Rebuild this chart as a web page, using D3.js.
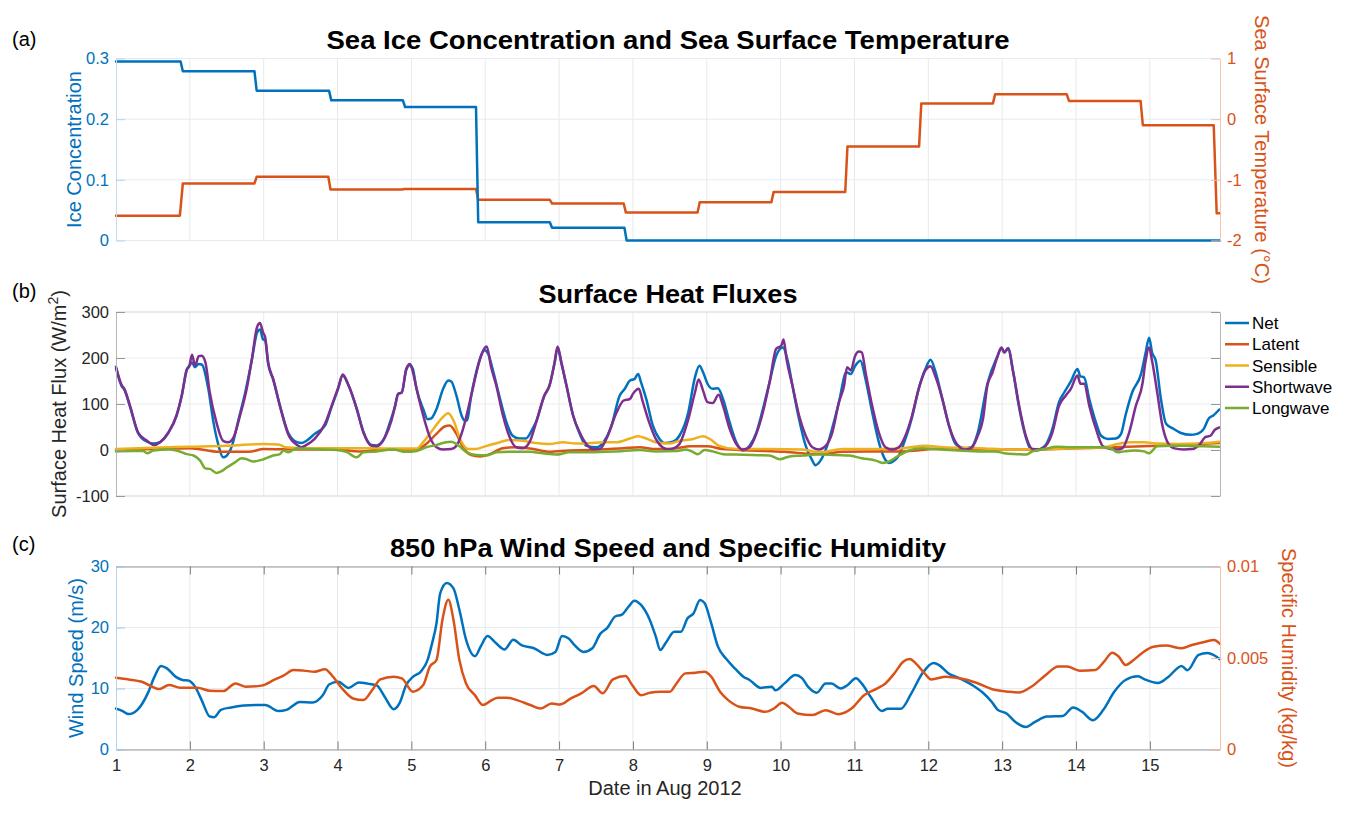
<!DOCTYPE html>
<html><head><meta charset="utf-8">
<script src="https://cdn.jsdelivr.net/npm/d3@7"></script>
<style>
body{margin:0;background:#fff}
svg{display:block}
text{font-family:"Liberation Sans",Arial,Helvetica,sans-serif}
</style>
</head><body>
<svg id="chart" width="1347" height="813"></svg>
<script>
// ---------------- DATA ----------------
const dayTicks = [1,2,3,4,5,6,7,8,9,10,11,12,13,14,15];

// Panel (a): step series (day, value)
const iceConc = [[1,0.295],[1.875,0.295],[1.905,0.279],[2.875,0.279],[2.905,0.247],[3.885,0.247],[3.915,0.231],[4.885,0.231],[4.915,0.220],[5.875,0.220],[5.905,0.030],[6.875,0.030],[6.905,0.021],[7.885,0.021],[7.915,0.0],[15.95,0.0]];
const sst = [[1,-1.59],[1.865,-1.59],[1.905,-1.06],[2.875,-1.06],[2.905,-0.95],[3.875,-0.95],[3.905,-1.16],[4.875,-1.16],[4.905,-1.15],[5.875,-1.15],[5.905,-1.33],[6.875,-1.33],[6.905,-1.39],[7.875,-1.39],[7.905,-1.54],[8.875,-1.54],[8.905,-1.37],[9.875,-1.37],[9.905,-1.20],[10.875,-1.20],[10.905,-0.45],[11.875,-0.45],[11.905,0.26],[12.875,0.26],[12.905,0.41],[13.875,0.41],[13.905,0.30],[14.875,0.30],[14.905,-0.10],[15.865,-0.10],[15.905,-1.55],[15.95,-1.55]];
const iceTicks = [0,0.1,0.2,0.3];
const sstTicks = [-2,-1,0,1];

// Panel (b): heat fluxes (day, W/m2)
const netFlux = [[1.0,178],[1.08,138],[1.11,132],[1.19,94],[1.30,36],[1.42,18],[1.51,14],[1.60,18],[1.71,38],[1.82,75],[1.89,118],[1.96,174],[2.0,185],[2.03,190],[2.07,180],[2.12,187],[2.16,186],[2.25,133],[2.32,60],[2.39,9],[2.45,-16],[2.50,-12],[2.57,9],[2.66,67],[2.75,125],[2.84,196],[2.91,255],[2.95,262],[2.99,241],[3.02,238],[3.06,188],[3.13,152],[3.22,96],[3.33,38],[3.45,17],[3.51,15],[3.58,20],[3.69,35],[3.83,53],[3.92,94],[4.01,134],[4.07,162],[4.15,140],[4.26,90],[4.35,40],[4.46,11],[4.53,10],[4.64,28],[4.71,60],[4.78,96],[4.82,122],[4.87,125],[4.93,174],[4.98,185],[5.02,176],[5.07,133],[5.16,89],[5.22,67],[5.27,69],[5.34,89],[5.43,133],[5.50,151],[5.54,149],[5.61,118],[5.68,75],[5.72,64],[5.75,64],[5.81,118],[5.90,183],[5.99,217],[6.04,209],[6.10,176],[6.19,118],[6.28,64],[6.37,31],[6.46,25],[6.55,25],[6.64,46],[6.69,62],[6.80,118],[6.87,140],[6.94,190],[6.98,222],[7.03,190],[7.10,140],[7.19,75],[7.28,35],[7.37,9],[7.51,6],[7.60,17],[7.71,53],[7.82,118],[7.89,133],[7.96,151],[8.02,154],[8.07,165],[8.11,147],[8.18,111],[8.27,53],[8.36,24],[8.43,15],[8.54,18],[8.63,31],[8.75,82],[8.84,158],[8.90,183],[8.95,169],[9.01,144],[9.08,133],[9.15,134],[9.22,111],[9.31,60],[9.40,17],[9.49,-1],[9.58,9],[9.67,37],[9.76,89],[9.85,147],[9.94,205],[10.03,223],[10.10,191],[10.16,140],[10.25,67],[10.34,9],[10.43,-23],[10.47,-33],[10.54,-23],[10.63,9],[10.72,60],[10.79,104],[10.89,169],[10.95,165],[11.01,183],[11.08,194],[11.15,154],[11.24,82],[11.33,17],[11.40,-16],[11.47,-28],[11.54,-23],[11.60,-12],[11.69,24],[11.78,71],[11.87,133],[11.96,176],[12.03,196],[12.10,169],[12.19,111],[12.28,53],[12.37,13],[12.49,4],[12.58,6],[12.67,38],[12.80,144],[12.94,205],[12.99,222],[13.03,212],[13.08,222],[13.15,169],[13.23,92],[13.32,28],[13.39,1],[13.46,-1],[13.52,2],[13.59,11],[13.68,46],[13.77,104],[13.84,125],[13.93,149],[14.02,176],[14.06,160],[14.11,158],[14.18,111],[14.27,60],[14.34,31],[14.43,24],[14.54,25],[14.61,35],[14.67,75],[14.76,125],[14.88,165],[14.94,209],[14.99,244],[15.03,212],[15.08,194],[15.15,111],[15.22,57],[15.31,47],[15.42,37],[15.55,33],[15.64,35],[15.73,46],[15.80,69],[15.86,75],[15.94,88]];
const latentFlux = [[1.0,0],[1.5,2],[2.0,4],[2.4,-4],[2.8,-4],[3.0,2],[3.5,1],[4.0,1],[4.3,-3],[4.6,1],[5.07,1],[5.2,13],[5.34,35],[5.45,51],[5.52,53],[5.61,35],[5.70,6],[5.81,-11],[5.93,-14],[6.06,-9],[6.24,4],[6.42,6],[6.65,2],[6.87,-4],[7.14,-1],[7.41,0],[7.87,4],[8.09,6],[8.31,2],[8.6,4],[8.77,8],[9.0,8],[9.22,2],[9.6,-1],[10.05,-4],[10.52,-9],[10.84,-4],[11.2,-3],[11.65,-3],[12.1,2],[12.5,2],[13.0,1],[13.5,1],[14.0,4],[14.5,6],[14.9,8],[15.4,11],[15.94,15]];
const sensibleFlux = [[1.0,2],[1.5,5],[2.0,7],[2.5,9],[2.8,12],[3.0,13],[3.2,12],[3.3,6],[3.6,4],[4.0,4],[4.5,4],[4.9,3],[5.07,3],[5.16,17],[5.3,46],[5.41,69],[5.5,80],[5.57,64],[5.66,24],[5.77,2],[5.86,2],[6.02,9],[6.2,17],[6.33,22],[6.51,20],[6.69,15],[6.87,13],[7.05,17],[7.23,14],[7.41,15],[7.6,17],[7.78,17],[7.96,25],[8.07,30],[8.18,25],[8.31,17],[8.49,14],[8.63,20],[8.82,24],[8.95,30],[9.04,24],[9.17,9],[9.4,2],[9.85,2],[10.3,1],[10.52,-5],[10.84,2],[11.2,2],[11.65,4],[11.96,9],[12.2,6],[12.7,4],[13.1,1],[13.6,2],[14.0,4],[14.38,6],[14.56,13],[14.74,17],[14.92,17],[15.1,14],[15.37,13],[15.64,14],[15.94,18]];
const shortwaveFlux = [[1.0,181],[1.08,140],[1.11,134],[1.19,96],[1.30,38],[1.42,20],[1.51,11],[1.60,17],[1.71,38],[1.82,75],[1.89,118],[1.96,176],[1.99,181],[2.03,207],[2.07,183],[2.12,204],[2.16,205],[2.21,191],[2.27,125],[2.36,60],[2.45,20],[2.52,17],[2.59,27],[2.68,75],[2.77,133],[2.84,198],[2.91,267],[2.95,276],[2.99,256],[3.02,245],[3.06,191],[3.13,154],[3.22,96],[3.33,35],[3.45,11],[3.51,6],[3.58,11],[3.69,24],[3.83,57],[3.92,96],[4.01,136],[4.07,164],[4.15,140],[4.26,89],[4.35,38],[4.46,9],[4.53,8],[4.64,27],[4.73,64],[4.78,96],[4.82,122],[4.87,125],[4.93,176],[4.98,187],[5.01,176],[5.07,133],[5.16,75],[5.25,28],[5.34,6],[5.43,1],[5.54,2],[5.61,9],[5.70,46],[5.79,104],[5.86,154],[5.93,198],[6.0,223],[6.02,225],[6.08,180],[6.15,140],[6.24,75],[6.33,28],[6.42,6],[6.51,4],[6.60,17],[6.69,60],[6.80,118],[6.87,140],[6.94,191],[6.98,225],[7.03,191],[7.10,140],[7.19,75],[7.28,38],[7.37,13],[7.46,2],[7.55,2],[7.64,24],[7.78,82],[7.87,107],[7.96,111],[8.0,122],[8.08,133],[8.13,107],[8.22,60],[8.31,24],[8.40,6],[8.49,1],[8.58,6],[8.63,13],[8.75,67],[8.84,125],[8.89,153],[8.95,129],[9.01,104],[9.08,102],[9.16,120],[9.22,96],[9.31,46],[9.40,13],[9.49,1],[9.58,6],[9.67,35],[9.76,82],[9.85,147],[9.94,220],[10.01,227],[10.04,240],[10.08,198],[10.16,140],[10.25,75],[10.34,31],[10.43,6],[10.52,1],[10.61,9],[10.70,38],[10.79,104],[10.86,140],[10.90,180],[10.95,173],[11.01,205],[11.06,214],[11.10,212],[11.15,169],[11.24,96],[11.33,38],[11.42,6],[11.51,1],[11.60,6],[11.69,31],[11.78,75],[11.87,133],[11.96,173],[12.03,182],[12.10,158],[12.19,111],[12.28,53],[12.37,17],[12.49,1],[12.58,4],[12.67,31],[12.74,67],[12.80,140],[12.87,169],[12.94,205],[12.99,223],[13.03,212],[13.08,220],[13.15,169],[13.23,96],[13.32,31],[13.41,2],[13.50,1],[13.59,9],[13.68,38],[13.77,96],[13.86,118],[13.93,133],[14.02,162],[14.06,144],[14.11,144],[14.18,96],[14.27,46],[14.36,9],[14.47,2],[14.56,1],[14.63,4],[14.72,38],[14.81,96],[14.90,144],[14.94,191],[14.99,223],[15.03,194],[15.10,125],[15.17,53],[15.23,20],[15.32,4],[15.46,1],[15.57,2],[15.68,13],[15.75,28],[15.82,31],[15.88,44],[15.94,49]];
const longwaveFlux = [[1.0,-3],[1.2,-2],[1.37,-2],[1.42,-7],[1.51,-1],[1.71,1],[1.82,-1],[1.96,-9],[2.05,-12],[2.14,-23],[2.21,-40],[2.27,-41],[2.36,-50],[2.43,-46],[2.5,-38],[2.61,-27],[2.7,-18],[2.77,-20],[2.86,-25],[3.0,-20],[3.13,-12],[3.22,-9],[3.27,-1],[3.33,-5],[3.45,4],[3.63,2],[3.99,0],[4.12,-4],[4.26,-16],[4.35,-5],[4.53,-3],[4.75,1],[4.93,-4],[5.07,-2],[5.2,6],[5.34,11],[5.47,17],[5.54,18],[5.63,11],[5.75,-5],[5.88,-11],[6.02,-12],[6.15,-5],[6.33,-4],[6.6,-4],[6.78,-7],[6.96,-10],[7.14,-5],[7.41,-5],[7.78,-3],[8.09,0],[8.31,-3],[8.6,-2],[8.72,1],[8.82,-5],[8.88,-9],[8.97,0],[9.08,-3],[9.22,-9],[9.4,-10],[9.62,-11],[9.85,-12],[9.99,-20],[10.12,-14],[10.3,-12],[10.52,-9],[10.75,-11],[10.93,-12],[11.1,-18],[11.29,-23],[11.38,-28],[11.47,-25],[11.6,-12],[11.74,-1],[11.92,4],[12.1,2],[12.4,-1],[12.7,-3],[12.9,-3],[13.03,-7],[13.21,-9],[13.32,-10],[13.41,-3],[13.57,2],[13.75,7],[13.93,6],[14.11,6],[14.34,6],[14.47,4],[14.56,-5],[14.65,-3],[14.79,-1],[14.92,-3],[14.99,-7],[15.1,8],[15.28,9],[15.46,9],[15.73,8],[15.94,7]];
const fluxTicks = [-100,0,100,200,300];
const fluxNames = ["Net","Latent","Sensible","Shortwave","Longwave"];
const fluxColors = ["#0072BD","#D95319","#EDB120","#7E2F8E","#77AC30"];

// Panel (c): 850 hPa wind speed (m/s) and specific humidity (kg/kg)
const windSpeed = [[1.0,6.7],[1.09,6.3],[1.17,5.8],[1.29,6.5],[1.43,9.2],[1.52,11.9],[1.61,13.7],[1.69,13.3],[1.81,11.9],[1.90,11.4],[1.98,11.3],[2.07,10.3],[2.16,8.1],[2.27,5.4],[2.33,5.3],[2.42,6.5],[2.56,6.9],[2.73,7.2],[2.91,7.3],[3.02,7.3],[3.2,6.3],[3.31,6.5],[3.49,7.8],[3.66,7.7],[3.8,8.9],[3.89,10.7],[4.01,11.1],[4.15,10.1],[4.29,11.0],[4.41,10.8],[4.53,10.5],[4.64,8.6],[4.76,6.6],[4.84,7.6],[4.93,10.6],[5.02,11.9],[5.13,12.8],[5.22,14.7],[5.28,17.4],[5.34,20.7],[5.39,25.6],[5.48,27.3],[5.57,26.4],[5.65,22.9],[5.74,18.0],[5.86,15.3],[5.94,16.9],[6.03,18.6],[6.14,17.5],[6.26,16.4],[6.38,18.0],[6.49,17.1],[6.66,16.6],[6.84,15.5],[6.95,16.0],[7.04,18.6],[7.13,18.2],[7.21,17.1],[7.33,16.0],[7.45,16.6],[7.56,19.0],[7.65,19.9],[7.76,21.8],[7.85,22.1],[7.94,23.4],[8.02,24.4],[8.11,23.7],[8.23,21.2],[8.31,18.5],[8.37,16.3],[8.45,17.6],[8.56,19.3],[8.65,19.3],[8.74,21.5],[8.82,22.3],[8.91,24.5],[8.97,24.0],[9.06,20.7],[9.15,16.9],[9.26,14.9],[9.38,13.3],[9.5,11.9],[9.58,11.4],[9.73,10.1],[9.88,10.3],[9.93,9.7],[10.05,10.8],[10.2,12.2],[10.29,11.7],[10.37,10.3],[10.49,9.3],[10.61,10.8],[10.69,10.8],[10.81,10.0],[10.9,10.5],[11.02,11.7],[11.1,10.8],[11.22,8.6],[11.37,6.3],[11.45,6.7],[11.63,6.7],[11.77,9.2],[11.92,12.5],[12.07,14.2],[12.15,13.8],[12.27,12.5],[12.42,11.7],[12.59,10.6],[12.74,9.3],[12.86,7.8],[12.94,6.5],[13.06,5.9],[13.18,4.5],[13.32,3.7],[13.44,4.5],[13.61,5.4],[13.82,5.5],[13.96,6.9],[14.08,6.2],[14.23,4.8],[14.37,6.5],[14.52,9.5],[14.67,11.4],[14.84,12.0],[14.93,11.5],[15.11,10.9],[15.25,11.9],[15.43,13.7],[15.51,13.0],[15.66,15.5],[15.78,15.8],[15.86,15.5],[15.95,14.8]];
const specHumidity = [[1.0,0.00392],[1.17,0.00383],[1.35,0.00370],[1.49,0.00343],[1.58,0.00330],[1.72,0.00352],[1.87,0.00338],[2.1,0.00338],[2.27,0.00321],[2.45,0.00319],[2.62,0.00361],[2.76,0.00343],[2.97,0.00349],[3.14,0.00380],[3.28,0.00407],[3.4,0.00434],[3.54,0.00431],[3.69,0.00425],[3.83,0.00438],[3.92,0.00407],[4.06,0.00334],[4.21,0.00279],[4.35,0.00270],[4.47,0.00325],[4.58,0.00383],[4.76,0.00398],[4.87,0.00389],[5.02,0.00316],[5.16,0.00352],[5.25,0.00453],[5.34,0.00489],[5.42,0.00708],[5.5,0.00818],[5.57,0.00708],[5.65,0.00489],[5.74,0.00361],[5.86,0.00297],[5.97,0.00243],[6.09,0.00270],[6.17,0.00283],[6.29,0.00283],[6.43,0.00270],[6.61,0.00243],[6.75,0.00224],[6.9,0.00252],[7.01,0.00246],[7.16,0.00279],[7.3,0.00307],[7.47,0.00347],[7.59,0.00307],[7.73,0.00383],[7.9,0.00401],[7.99,0.00352],[8.11,0.00297],[8.23,0.00310],[8.37,0.00316],[8.5,0.00316],[8.59,0.00361],[8.71,0.00416],[8.85,0.00420],[8.97,0.00425],[9.06,0.00398],[9.18,0.00316],[9.29,0.00270],[9.44,0.00234],[9.61,0.00224],[9.79,0.00206],[9.91,0.00224],[10.02,0.00255],[10.11,0.00234],[10.23,0.00197],[10.43,0.00188],[10.61,0.00215],[10.78,0.00193],[10.96,0.00224],[11.13,0.00297],[11.31,0.00334],[11.42,0.00361],[11.54,0.00416],[11.66,0.00480],[11.75,0.00495],[11.83,0.00471],[11.95,0.00416],[12.04,0.00383],[12.24,0.00398],[12.42,0.00389],[12.65,0.00365],[12.88,0.00328],[13.09,0.00316],[13.23,0.00312],[13.41,0.00347],[13.59,0.00407],[13.76,0.00453],[13.88,0.00453],[14.05,0.00431],[14.26,0.00434],[14.38,0.00480],[14.49,0.00529],[14.58,0.00507],[14.67,0.00462],[14.78,0.00489],[14.9,0.00529],[15.05,0.00562],[15.22,0.00568],[15.43,0.00553],[15.57,0.00571],[15.75,0.00589],[15.87,0.00599],[15.95,0.00577]];
const windTicks = [0,10,20,30];
const humTicks = [0,0.005,0.01];

// ---------------- DRAWING ----------------
const BLUE = "#0072BD", ORANGE = "#D95319";
const svg = d3.select("#chart");
const X0 = 116, X1 = 1220;
const x = d3.scaleLinear().domain([1, 15.95]).range([X0, X1]);
const fmt = d => String(+(+d).toFixed(4));
const FONT = '"Liberation Sans",Arial,Helvetica,sans-serif';

const panels = {
  a: {top: 58.5, bottom: 240.5},
  b: {top: 312, bottom: 496},
  c: {top: 566.5, bottom: 749.5}
};

function grid(p, yScale, ticks, hColor) {
  const g = svg.append("g");
  g.selectAll("line.v").data(dayTicks.filter(d => d > 1)).join("line")
    .attr("x1", d => x(d)).attr("x2", d => x(d))
    .attr("y1", p.top).attr("y2", p.bottom)
    .attr("stroke", "#e9e9e9").attr("stroke-width", 1);
  g.selectAll("line.h").data(ticks).join("line")
    .attr("x1", X0).attr("x2", X1)
    .attr("y1", d => yScale(d)).attr("y2", d => yScale(d))
    .attr("stroke", hColor).attr("stroke-width", 1);
}

function clipFor(id, p) {
  svg.append("clipPath").attr("id", id).append("rect")
    .attr("x", X0 - 2).attr("y", p.top - 3).attr("width", X1 - X0 + 4).attr("height", p.bottom - p.top + 6);
}

function drawLine(data, yScale, color, curve, clip) {
  const line = d3.line().x(d => x(d[0])).y(d => yScale(d[1])).curve(curve);
  svg.append("path").datum(data)
    .attr("d", line).attr("fill", "none")
    .attr("stroke", color).attr("stroke-width", 2.5)
    .attr("stroke-linejoin", "round").attr("stroke-linecap", "round")
    .attr("clip-path", `url(#${clip})`);
}

function yAxis(side, yScale, ticks, lineColor, tickColor, labelColor, xpos) {
  const ax = (side === "left" ? d3.axisLeft(yScale) : d3.axisRight(yScale))
    .tickValues(ticks).tickFormat(fmt).tickSizeInner(-9).tickSizeOuter(0).tickPadding(7);
  const g = svg.append("g").attr("transform", `translate(${xpos},0)`).call(ax);
  g.select(".domain").attr("stroke", lineColor).attr("stroke-width", 1);
  g.selectAll(".tick line").attr("stroke", tickColor).attr("stroke-width", 1);
  g.selectAll(".tick text").attr("fill", labelColor).attr("font-size", 16.5).attr("font-family", FONT);
  return g;
}

function title(txt, baseline, len) {
  svg.append("text").attr("x", 668).attr("y", baseline).attr("text-anchor", "middle")
    .attr("font-size", 25).attr("font-weight", "bold").attr("fill", "#000")
    .attr("textLength", len).attr("lengthAdjust", "spacingAndGlyphs").text(txt);
}
function panelLabel(txt, baseline) {
  svg.append("text").attr("x", 12).attr("y", baseline).attr("font-size", 20).attr("fill", "#000").text(txt);
}
function yLabel(txt, cx, cy, rot, color) {
  return svg.append("text").attr("transform", `translate(${cx},${cy}) rotate(${rot})`)
    .attr("text-anchor", "middle").attr("font-size", 20).attr("fill", color).text(txt);
}

// ---------- Panel (a) ----------
const pa = panels.a;
const yIce = d3.scaleLinear().domain([0, 0.3]).range([pa.bottom, pa.top]);
const ySST = d3.scaleLinear().domain([-2, 1]).range([pa.bottom, pa.top]);
grid(pa, yIce, iceTicks, "#e3ecf4");
clipFor("clipA", pa);
drawLine(sst, ySST, ORANGE, d3.curveLinear, "clipA");
drawLine(iceConc, yIce, BLUE, d3.curveLinear, "clipA");
yAxis("left", yIce, iceTicks, "#c4dcee", "#b8d3ea", BLUE, X0);
yAxis("right", ySST, sstTicks, "#f3c7b4", "#f0bda8", ORANGE, X1);
title("Sea Ice Concentration and Sea Surface Temperature", 48.5, 683);
panelLabel("(a)", 46);
yLabel("Ice Concentration", 81, (pa.top + pa.bottom) / 2, -90, BLUE);
yLabel("Sea Surface Temperature (°C)", 1255, (pa.top + pa.bottom) / 2, 90, ORANGE);

// ---------- Panel (b) ----------
const pb = panels.b;
const yFlux = d3.scaleLinear().domain([-100, 300]).range([pb.bottom, pb.top]);
grid(pb, yFlux, fluxTicks, "#ececec");
clipFor("clipB", pb);
const fluxSeries = [netFlux, latentFlux, sensibleFlux, shortwaveFlux, longwaveFlux];
fluxSeries.forEach((s, i) => drawLine(s, yFlux, fluxColors[i], d3.curveMonotoneX, "clipB"));
// frame
svg.append("line").attr("x1", X0).attr("x2", X1).attr("y1", pb.top).attr("y2", pb.top).attr("stroke", "#dedede");
svg.append("line").attr("x1", X0).attr("x2", X1).attr("y1", pb.bottom).attr("y2", pb.bottom).attr("stroke", "#dedede");
yAxis("left", yFlux, fluxTicks, "#b5b5b5", "#999", "#262626", X0);
const rb = d3.axisRight(yFlux).tickValues(fluxTicks).tickFormat("").tickSizeInner(-9).tickSizeOuter(0);
const rbg = svg.append("g").attr("transform", `translate(${X1},0)`).call(rb);
rbg.select(".domain").attr("stroke", "#b5b5b5");
rbg.selectAll(".tick line").attr("stroke", "#999");
title("Surface Heat Fluxes", 302.5, 259);
panelLabel("(b)", 298);
const ylb = svg.append("text").attr("transform", `translate(66,${(pb.top + pb.bottom) / 2}) rotate(-90)`)
  .attr("text-anchor", "middle").attr("font-size", 20).attr("fill", "#262626");
ylb.append("tspan").text("Surface Heat Flux (W/m");
ylb.append("tspan").attr("font-size", 14).attr("dy", -8).text("2");
ylb.append("tspan").attr("dy", 8).text(")");
// legend
const legendY = d3.scalePoint().domain(fluxNames).range([323, 408]);
const lg = svg.append("g");
fluxNames.forEach((n, i) => {
  lg.append("line").attr("x1", 1225).attr("x2", 1249)
    .attr("y1", legendY(n)).attr("y2", legendY(n))
    .attr("stroke", fluxColors[i]).attr("stroke-width", 2.5);
  lg.append("text").attr("x", 1252).attr("y", legendY(n)).attr("dy", "0.36em")
    .attr("font-size", 17).attr("fill", "#000").text(n);
});

// ---------- Panel (c) ----------
const pc = panels.c;
const yWind = d3.scaleLinear().domain([0, 30]).range([pc.bottom, pc.top]);
const yHum = d3.scaleLinear().domain([0, 0.01]).range([pc.bottom, pc.top]);
grid(pc, yWind, windTicks, "#e3ecf4");
clipFor("clipC", pc);
drawLine(windSpeed, yWind, BLUE, d3.curveMonotoneX, "clipC");
drawLine(specHumidity, yHum, ORANGE, d3.curveMonotoneX, "clipC");
// x axes (bottom with labels, top without)
const xb = d3.axisBottom(x).tickValues(dayTicks).tickFormat(d => String(d)).tickSizeInner(-8).tickSizeOuter(0).tickPadding(10);
const xbg = svg.append("g").attr("transform", `translate(0,${pc.bottom})`).call(xb);
xbg.select(".domain").attr("stroke", "#9a9a9a");
xbg.selectAll(".tick line").attr("stroke", "#7a7a7a");
xbg.selectAll(".tick text").attr("fill", "#262626").attr("font-size", 16.5).attr("font-family", FONT);
const xt = d3.axisTop(x).tickValues(dayTicks).tickFormat("").tickSizeInner(-8).tickSizeOuter(0);
const xtg = svg.append("g").attr("transform", `translate(0,${pc.top})`).call(xt);
xtg.select(".domain").attr("stroke", "#9a9a9a");
xtg.selectAll(".tick line").attr("stroke", "#7a7a7a");
yAxis("left", yWind, windTicks, "#b3d3ec", "#9fc6e6", BLUE, X0);
yAxis("right", yHum, humTicks, "#f3c2ad", "#eeb39b", ORANGE, X1);
title("850 hPa Wind Speed and Specific Humidity", 556.5, 556);
panelLabel("(c)", 551);
yLabel("Wind Speed (m/s)", 83, (pc.top + pc.bottom) / 2, -90, BLUE);
yLabel("Specific Humidity (kg/kg)", 1282, (pc.top + pc.bottom) / 2, 90, ORANGE);
svg.append("text").attr("x", 665).attr("y", 795).attr("text-anchor", "middle")
  .attr("font-size", 20).attr("fill", "#262626").text("Date in Aug 2012");
</script>
</body></html>
